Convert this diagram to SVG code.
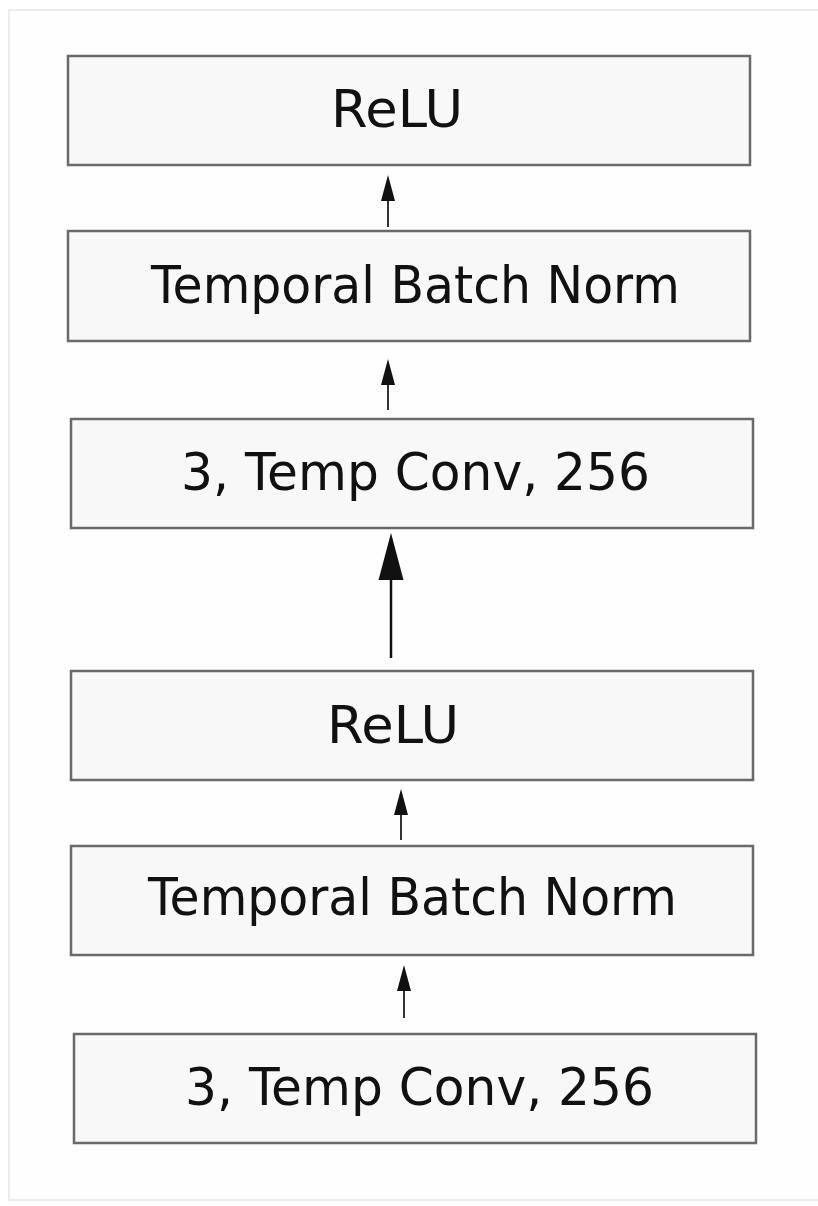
<svg xmlns="http://www.w3.org/2000/svg" width="818" height="1206" viewBox="0 0 818 1206">
<style>
.box{fill:#f8f8f8;stroke:#6a6a6a;stroke-width:2.5}
.lbl{font-family:"DejaVu Sans",Verdana,sans-serif;font-size:52px;fill:#111}
.c{stroke:#333;stroke-width:2;fill:none}
.cb{stroke:#111;stroke-width:2.5;fill:none}
</style>
<rect x="0" y="0" width="818" height="1206" fill="#fff"/>
<rect x="9" y="10" width="810" height="1190" fill="#fefefe" stroke="#ececec" stroke-width="2"/>
<g id="relu1"><rect class="box" x="68" y="56" width="682" height="109"/><text class="lbl" x="331" y="127" textLength="132" lengthAdjust="spacingAndGlyphs">ReLU</text></g>
<g id="tbn1"><rect class="box" x="68" y="231" width="682" height="110"/><text class="lbl" x="151" y="303" textLength="529" lengthAdjust="spacingAndGlyphs">Temporal Batch Norm</text></g>
<g id="conv1"><rect class="box" x="71" y="419" width="682" height="109"/><text class="lbl" x="181" y="490" textLength="469" lengthAdjust="spacingAndGlyphs">3, Temp Conv, 256</text></g>
<g id="relu2"><rect class="box" x="71" y="671" width="682" height="109"/><text class="lbl" x="327" y="743" textLength="132" lengthAdjust="spacingAndGlyphs">ReLU</text></g>
<g id="tbn2"><rect class="box" x="71" y="846" width="682" height="109"/><text class="lbl" x="148" y="915" textLength="529" lengthAdjust="spacingAndGlyphs">Temporal Batch Norm</text></g>
<g id="conv2"><rect class="box" x="74" y="1034" width="682" height="109"/><text class="lbl" x="185" y="1105" textLength="469" lengthAdjust="spacingAndGlyphs">3, Temp Conv, 256</text></g>
<g id="connectors">
<line class="c" x1="388" y1="227" x2="388" y2="196"/><polygon points="388,175 381,201 395,201" fill="#111"/>
<line class="c" x1="388" y1="410" x2="388" y2="380"/><polygon points="388,359 381,385 395,385" fill="#111"/>
<line class="cb" x1="391" y1="658" x2="391" y2="560"/><polygon points="391,533 378.5,580 403.5,580" fill="#111"/>
<line class="c" x1="401" y1="840" x2="401" y2="810"/><polygon points="401,789 394,815 408,815" fill="#111"/>
<line class="c" x1="404" y1="1018" x2="404" y2="986"/><polygon points="404,965 397,991 411,991" fill="#111"/>
</g>
</svg>
